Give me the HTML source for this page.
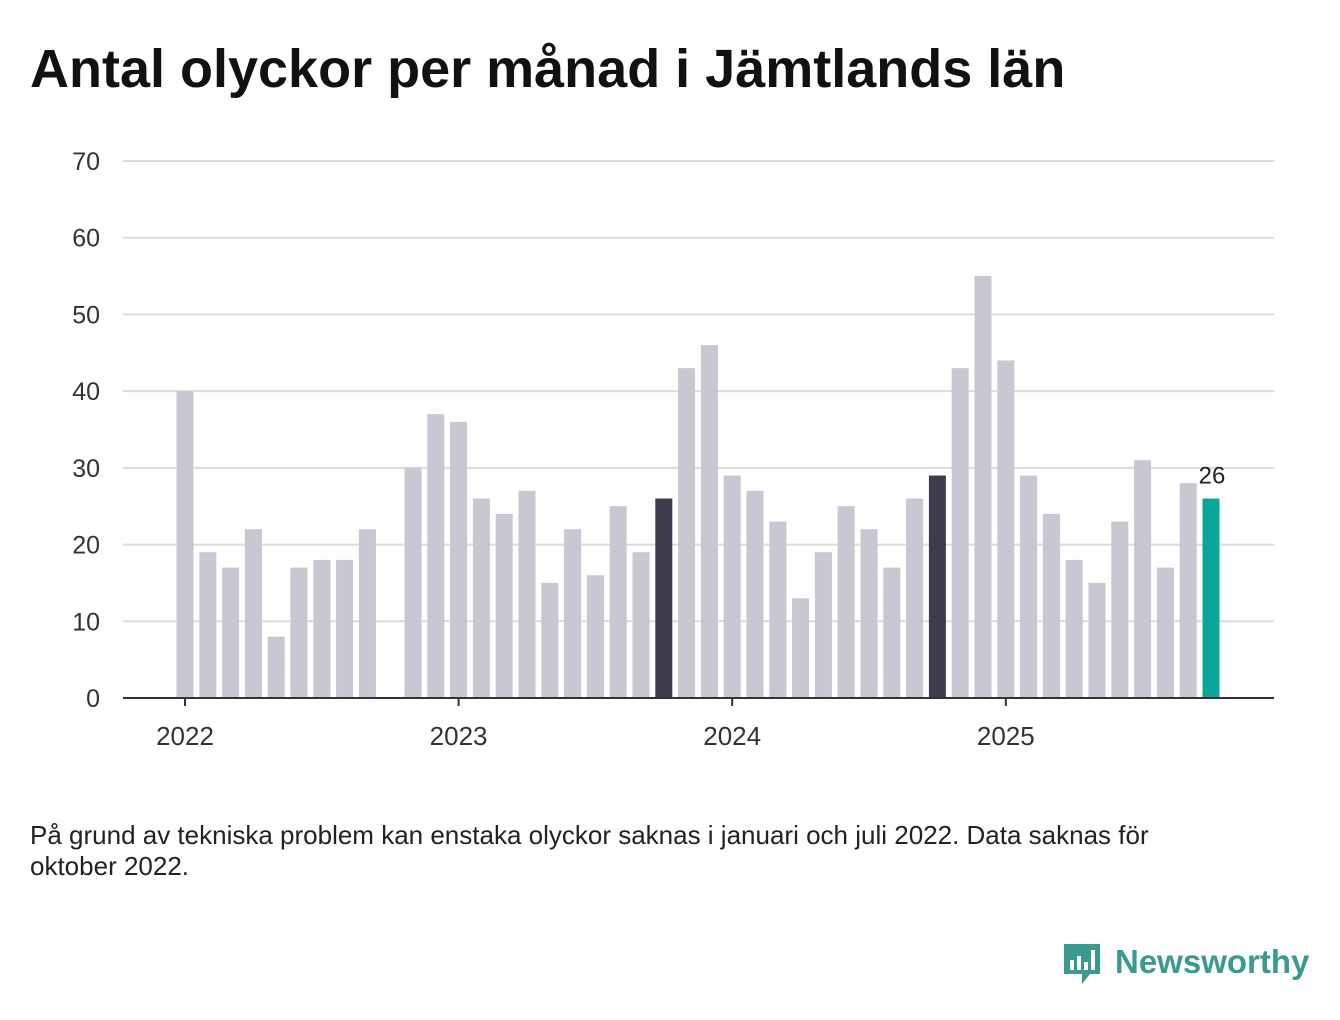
<!DOCTYPE html>
<html><head><meta charset="utf-8"><style>
body{margin:0;background:#fff;width:1340px;height:1020px;overflow:hidden;font-family:"Liberation Sans",sans-serif;}
#title{position:absolute;left:30px;top:38px;font-size:54px;font-weight:bold;color:#111;margin:0;}
#note{position:absolute;left:30px;top:820px;font-size:26px;color:#222;line-height:31px;width:1200px;}
#logo{position:absolute;left:1062px;top:940px;}
</style></head><body>
<h1 id="title">Antal olyckor per månad i Jämtlands län</h1>
<svg id="chart" width="1340" height="1020" style="position:absolute;left:0;top:0"></svg>
<div id="note">På grund av tekniska problem kan enstaka olyckor saknas i januari och juli 2022. Data saknas för oktober 2022.</div>
<svg id="logo" width="250" height="52">
<path d="M2 4h36v30h-10l-8 10v-10h-18z" fill="#3a9a8f"/>
<rect x="8" y="20" width="4" height="10" fill="#fff"/><rect x="15" y="16" width="4" height="14" fill="#fff"/><rect x="22" y="22" width="4" height="8" fill="#fff"/><rect x="29" y="10" width="4" height="20" fill="#fff"/>
<text x="53" y="33" font-size="33" font-weight="bold" fill="#3a9a8f" font-family="Liberation Sans, sans-serif">Newsworthy</text>
</svg>
<script>
const values=[40,19,17,22,8,17,18,18,22,null,30,37,36,26,24,27,15,22,16,25,19,26,43,46,29,27,23,13,19,25,22,17,26,29,43,55,44,29,24,18,15,23,31,17,28,26];
const highlightIdx=[21,33];
const yTicks=[0,10,20,30,40,50,60,70];
const xYears=["2022","2023","2024","2025"];
const xYearIdx=[0,12,24,36];
const svg=document.getElementById('chart');const NS='http://www.w3.org/2000/svg';
const y0=698,yTop=161,yMax=70,x0=185,step=22.8,bw=17;
const ys=v=>y0-(v/yMax)*(y0-yTop);const xs=i=>x0+i*step;
function mk(t,a){const e=document.createElementNS(NS,t);for(const k in a)e.setAttribute(k,a[k]);svg.appendChild(e);return e;}
yTicks.forEach(t=>{
 if(t>0){const l=mk('line',{x1:123,x2:1274,y1:ys(t),y2:ys(t),stroke:'#dcdcdc','stroke-width':2});
 
 }
 const tx=mk('text',{x:100,y:ys(t)+9,'text-anchor':'end','font-size':25,fill:'#333'});tx.textContent=t;
 
 
});
values.forEach((v,i)=>{if(v==null)return;
 const last=i===values.length-1;const fill=last?'#0aa69a':(highlightIdx.includes(i)?'#3f3d4b':'#c8c7d2');
 const r=mk('rect',{x:xs(i)-bw/2,y:ys(v),width:bw,height:y0-ys(v),fill:fill});
 
 
 if(last){const t=mk('text',{x:xs(i)+1,y:ys(v)-15,'text-anchor':'middle','font-size':24,fill:'#222'});t.textContent=v;
 
 }
});
const ax=mk('line',{x1:123,x2:1274,y1:y0,y2:y0,stroke:'#333','stroke-width':2});


xYears.forEach((yr,k)=>{const x=xs(xYearIdx[k]);
 const tk=mk('line',{x1:x,x2:x,y1:y0,y2:y0+8,stroke:'#333','stroke-width':2});
 
 
 const t=mk('text',{x:x,y:745,'text-anchor':'middle','font-size':26,fill:'#333'});t.textContent=yr;
 
 
});
</script>
</body></html>
